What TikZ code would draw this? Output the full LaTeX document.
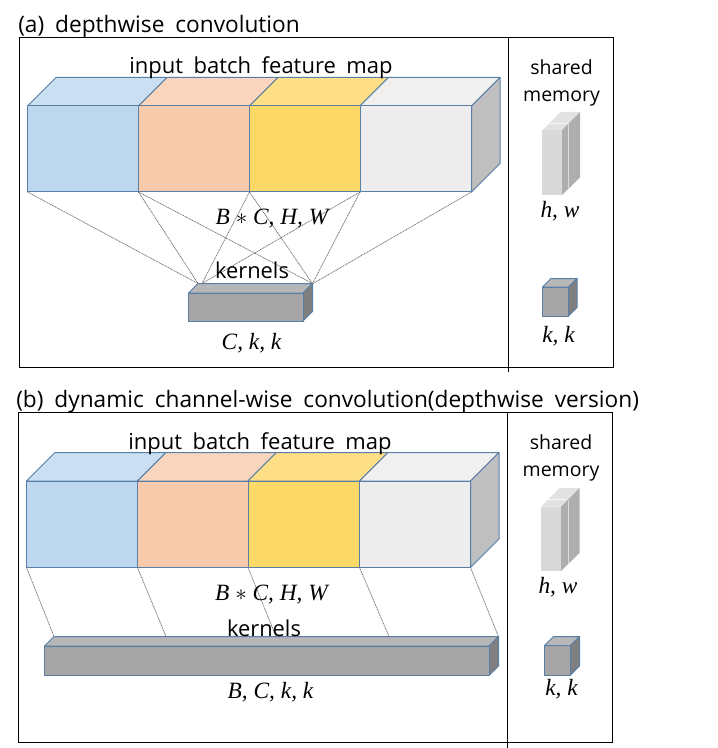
\documentclass[tikz,border=0pt]{standalone}
\usepackage{fontspec}
\setmainfont[WordSpace=1.85]{Open Sans}
\newfontfamily\mathish[WordSpace=1]{Liberation Serif}
\definecolor{edgeblue}{HTML}{5A7FA6}
\definecolor{dotgray}{HTML}{6E6E6E}
\definecolor{fblue}{HTML}{BDD7EE}\definecolor{tblue}{HTML}{CADFF2}
\definecolor{fpeach}{HTML}{F7CBAC}\definecolor{tpeach}{HTML}{F9D5BE}
\definecolor{fyel}{HTML}{FFD966}\definecolor{tyel}{HTML}{FFDF85}
\definecolor{fgrey}{HTML}{EDEDED}\definecolor{tgrey}{HTML}{F0F0F0}
\definecolor{sgrey}{HTML}{BFBFBF}
\definecolor{fker}{HTML}{A5A5A5}\definecolor{tker}{HTML}{B7B7B7}\definecolor{sker}{HTML}{7F7F7F}
\definecolor{fmem}{HTML}{D9D9D9}\definecolor{tmem}{HTML}{E2E2E2}\definecolor{smem}{HTML}{AEAEAE}
\tikzset{
  frameline/.style={draw=black,line width=0.75pt},
  cubeedge/.style={draw=edgeblue,line width=0.75pt,line join=round},
  dotlink/.style={draw=dotgray,line width=0.55pt,dash pattern=on 0.8pt off 0.5pt},
  title/.style={anchor=base west,inner sep=0pt,font=\fontsize{17}{19}\selectfont},
  inputlabel/.style={anchor=base west,inner sep=0pt,font=\fontsize{16.5}{18}\selectfont},
  label/.style={anchor=base,inner sep=0pt,font=\fontsize{14.6}{16}\selectfont},
  kernellabel/.style={anchor=base,inner sep=0pt,font=\fontsize{16.4}{18}\selectfont},
  mathlabel/.style={anchor=base,inner sep=0pt,font=\mathish\itshape\fontsize{17.5}{19}\selectfont},
}
% name, x0, y0 (front top left), x1, y1 (front bottom right), depth, colours front, top, side
\newcommand{\cubeblock}[9]{%
  \path[cubeedge,fill=#8] (#2,#3) -- (#2+#6,#3-#6) -- (#4+#6,#3-#6) -- (#4,#3) -- cycle;
  \path[cubeedge,fill=#9] (#4,#3) -- (#4+#6,#3-#6) -- (#4+#6,#5-#6) -- (#4,#5) -- cycle;
  \path[cubeedge,fill=#7] (#2,#3) rectangle (#4,#5);
  \coordinate (#1-bl) at (#2,#5);
  \coordinate (#1-br) at (#4,#5);
  \coordinate (#1-tl) at (#2+#6,#3-#6);
  \coordinate (#1-tr) at (#4+#6,#3-#6);
}
\newcommand{\memblock}[4]{%
  \fill[tmem] (#1,#2) -- (#1+18.5,#2-18.5) -- (#3+18.5,#2-18.5) -- (#3,#2) -- cycle;
  \draw[white!75!tmem,line width=0.5pt] (#1+6,#2-7) -- (#3+6,#2-7);
  \fill[smem] (#3,#2) -- (#3+18.5,#2-18.5) -- (#3+18.5,#4-18) -- (#3,#4) -- cycle;
  \draw[white!55!smem,line width=0.6pt] (#3+7,#2-7) -- (#3+7,#4-7);
  \fill[fmem] (#1,#2) rectangle (#3,#4);
}
\begin{document}
\begin{tikzpicture}[x=0.75pt,y=-0.75pt]
\useasboundingbox (0,0) rectangle (717,748);
% ---------- panel (a)
\draw[frameline] (19.5,38) rectangle (613.5,367);
\draw[frameline] (508,38) -- (508,372);
\cubeblock{a1}{27.5}{106}{138.5}{192}{28.5}{fblue}{tblue}{fblue}
\cubeblock{a2}{138.5}{106}{249.5}{192}{28.5}{fpeach}{tpeach}{fpeach}
\cubeblock{a3}{249.5}{106}{360}{192}{28.5}{fyel}{tyel}{fyel}
\cubeblock{a4}{360}{106}{471.5}{192}{28.5}{fgrey}{tgrey}{sgrey}
\cubeblock{ak}{188.5}{293}{303}{321}{9.5}{fker}{tker}{sker}
\coordinate (ak-l) at (202,283.5);
\coordinate (ak-r) at (313,283.5);
\draw[dotlink] (a1-bl) -- (ak-tl);
\draw[dotlink] (a1-br) -- (ak-tl);
\draw[dotlink] (a1-br) -- (ak-tr);
\draw[dotlink] (a2-br) -- (ak-l);
\draw[dotlink] (a2-br) -- (ak-tr);
\draw[dotlink] (a3-br) -- (ak-l);
\draw[dotlink] (a3-br) -- (ak-tr);
\draw[dotlink] (a4-br) -- (ak-r);
\memblock{542}{130.5}{561.5}{195.5}
\cubeblock{as}{542.5}{287}{568.5}{316}{8.5}{fker}{tker}{sker}
\node[title] (atitle) at (18,32.5) {(a) depthwise convolution};
\node[inputlabel] (ainput) at (129,73.5) {input batch feature map};
\node[label] (ashared) at (561.5,75) {shared};
\node[label] (amemory) at (561.5,101.5) {memory};
\node[kernellabel] (akernels) at (252,278) {kernels};
\node[mathlabel] (ashape) at (272,225) {B $*$ C, H, W};
\node[mathlabel] (akshape) at (251.5,349) {C, k, k};
\node[mathlabel] (ahw) at (560,218) {h, w};
\node[mathlabel] (akk) at (558.5,342) {k, k};
% ---------- panel (b)
\draw[frameline] (18.5,412.5) rectangle (612.5,742);
\draw[frameline] (507.5,412.5) -- (507.5,748);
\cubeblock{b1}{26.5}{481}{137.5}{567.5}{28.5}{fblue}{tblue}{fblue}
\cubeblock{b2}{137.5}{481}{248}{567.5}{28.5}{fpeach}{tpeach}{fpeach}
\cubeblock{b3}{248}{481}{359.5}{567.5}{28.5}{fyel}{tyel}{fyel}
\cubeblock{b4}{359.5}{481}{470.5}{567.5}{28.5}{fgrey}{tgrey}{sgrey}
\cubeblock{bk}{44.5}{646}{489}{675.5}{9.5}{fker}{tker}{sker}
\coordinate (bk-2) at (166,636.5);
\coordinate (bk-3) at (276,636.5);
\coordinate (bk-4) at (389,636.5);
\draw[dotlink] (b1-bl) -- (bk-tl);
\draw[dotlink] (b1-br) -- (bk-2);
\draw[dotlink] (b2-br) -- (bk-3);
\draw[dotlink] (b3-br) -- (bk-4);
\draw[dotlink] (b4-br) -- (bk-tr);
\memblock{541}{506.5}{561}{571}
\cubeblock{bs}{544.5}{645.5}{570.5}{675}{9}{fker}{tker}{sker}
\node[title] (btitle) at (16,407.5) {(b) dynamic channel-wise convolution(depthwise version)};
\node[inputlabel] (binput) at (128,449.5) {input batch feature map};
\node[label] (bshared) at (561,449.5) {shared};
\node[label] (bmemory) at (561,476.5) {memory};
\node[kernellabel] (bkernels) at (264,636) {kernels};
\node[mathlabel] (bshape) at (271.5,600) {B $*$ C, H, W};
\node[mathlabel] (bkshape) at (270.5,698) {B, C, k, k};
\node[mathlabel] (bhw) at (558,593) {h, w};
\node[mathlabel] (bkk) at (561.5,695) {k, k};
\end{tikzpicture}
\end{document}
